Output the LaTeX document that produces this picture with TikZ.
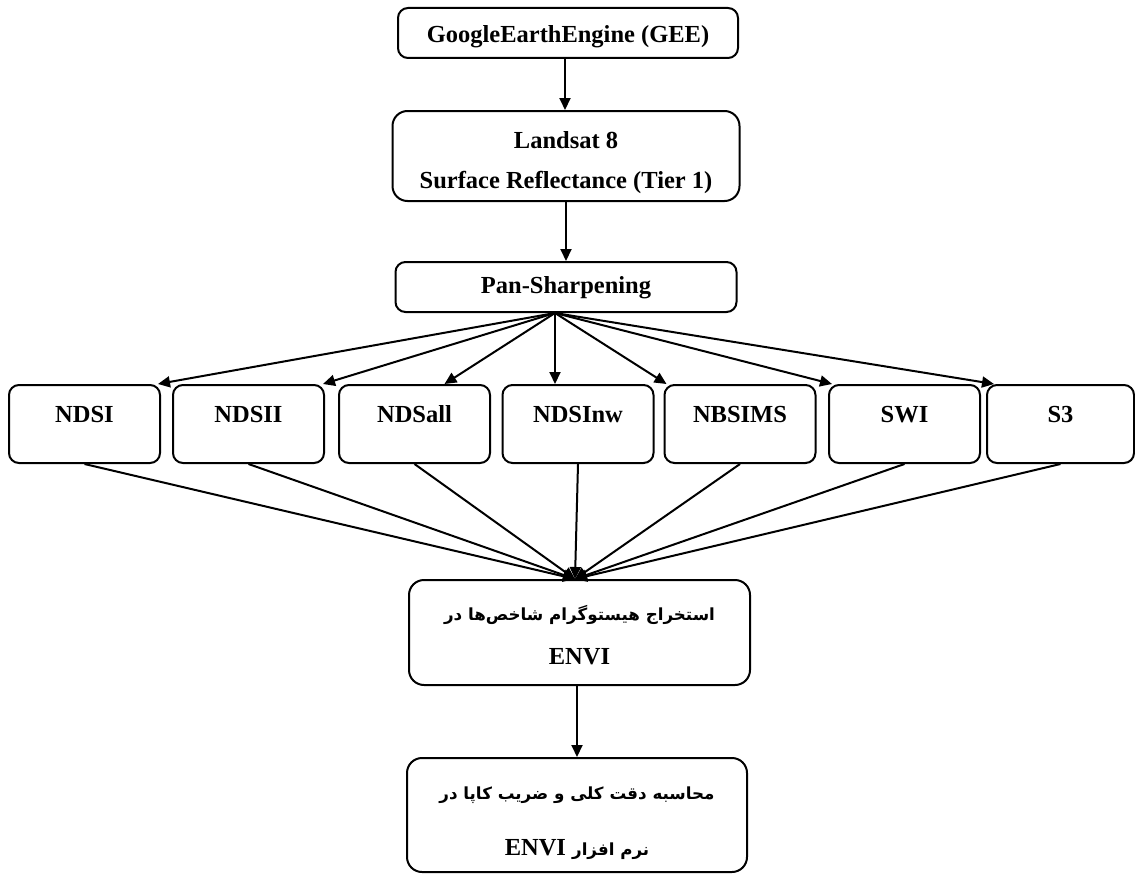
\documentclass[tikz,border=0pt]{standalone}
\usepackage{fontspec}
\setmainfont{Liberation Serif}
\newfontfamily\fa[Script=Arabic]{DejaVu Sans}
\TeXXeTstate=1
\usetikzlibrary{arrows.meta}
\newcommand{\fatxt}[1]{{\fontsize{16.7}{20}\selectfont\fa\bfseries\beginR #1\endR}}
\begin{document}
\begin{tikzpicture}[x=1pt,y=-1pt,
  box/.style={draw=black, line width=2pt, rounded corners=10pt, fill=white, inner sep=0pt,
    font=\fontsize{24.5}{28}\selectfont\bfseries, align=center},
  rowbox/.style={box, minimum width=151pt, minimum height=78pt, text height=8pt, text depth=12pt},
  arr/.style={line width=2pt, -{Triangle[length=12pt,width=11pt]}}]
\useasboundingbox (0,0) rectangle (1135,875);

\node[box, minimum width=340pt, minimum height=50pt, text height=20pt, text depth=0pt] (gee) at (568,33) {GoogleEarthEngine (GEE)};
\node[box, rounded corners=15pt, minimum width=347pt, minimum height=90pt] (land) at (566,156)
  {\rule{0pt}{31pt}Landsat 8\\[12pt] Surface Reflectance (Tier 1)};
\node[box, minimum width=341pt, minimum height=50pt, text height=16pt, text depth=4pt] (pan) at (566,287) {Pan-Sharpening};

\node[rowbox] (n1) at (84.5,424) {NDSI};
\node[rowbox] (n2) at (248.5,424) {NDSII};
\node[rowbox] (n3) at (414.5,424) {NDSall};
\node[rowbox] (n4) at (578,424) {NDSInw};
\node[rowbox] (n5) at (740,424) {NBSIMS};
\node[rowbox] (n6) at (904.5,424) {SWI};
\node[rowbox, minimum width=147pt] (n7) at (1060.5,424) {S3};

\node[box, rounded corners=15pt, minimum width=341pt, minimum height=105pt] (e1) at (579.5,632.5)
  {\rule{0pt}{20pt}\fatxt{استخراج هیستوگرام شاخص^^^^200cها در}\\[16pt] ENVI};
\node[box, rounded corners=15pt, minimum width=340pt, minimum height=114pt] (e2) at (577,815)
  {\rule{0pt}{30pt}\fatxt{محاسبه دقت کلی و ضریب کاپا در}\\[28pt]
   \beginR\fatxt{نرم افزار} \beginL ENVI\endL\endR};

\coordinate (apex) at ([xshift=-11pt]pan.south);
\coordinate (conv) at ([xshift=-4.5pt]e1.north);

\draw[arr] ([xshift=-3pt]gee.south) -- ([xshift=-3pt]gee.south |- land.north);
\draw[arr] (land.south) -- (land.south |- pan.north);

\draw[arr] (apex) -- ([xshift=-3pt]n1.north east);
\draw[arr] (apex) -- ([xshift=-2pt]n2.north east);
\draw[arr] (apex) -- ([xshift=30pt]n3.north);
\draw[arr] (apex) -- (apex |- n4.north);
\draw[arr] (apex) -- ([xshift=3pt]n5.north west);
\draw[arr] (apex) -- ([xshift=4pt]n6.north west);
\draw[arr] (apex) -- ([xshift=8pt]n7.north west);

\foreach \n in {n1,n2,n3,n4,n5,n6,n7}
  \draw[arr] (\n.south) -- (conv);

\draw[arr] ([xshift=-2.5pt]e1.south) -- ([xshift=-2.5pt]e1.south |- e2.north);
\end{tikzpicture}
\end{document}
